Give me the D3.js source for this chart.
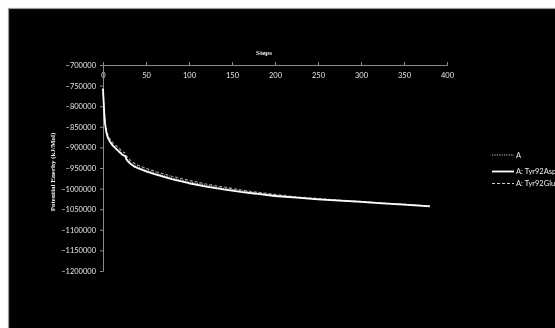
<!DOCTYPE html>
<html>
<head>
<meta charset="utf-8">
<script src="https://cdn.jsdelivr.net/npm/d3@7"></script>
<style>
  html, body { margin: 0; padding: 0; background: #fff; overflow: hidden; }
  svg { display: block; filter: grayscale(1); }
</style>
</head>
<body>
<svg id="chart" width="555" height="328"></svg>
<script>
const steps = [0, 1, 2, 3, 4, 5, 6, 8, 10, 12, 15, 18, 20, 22, 24, 26, 27, 29, 32, 36, 40, 45, 50,
  60, 70, 80, 90, 100, 120, 140, 160, 180, 200, 225, 250, 275, 300, 325, 350, 380];

const energyA = [-757000, -798000, -832000, -850000, -862000, -870000, -876000, -884000, -890000,
  -895000, -901000, -906000, -910000, -914000, -917000, -919000, -925000, -931000, -937000,
  -943000, -947000, -951000, -955000, -962000, -968000, -974000, -979000, -984000, -992000,
  -999000, -1005000, -1011000, -1016000, -1021000, -1025000, -1028000, -1031000, -1035000,
  -1038000, -1042000];

const energyAsp = [-758000, -800000, -835000, -852000, -864000, -872000, -878000, -886000, -892000,
  -897000, -903000, -909000, -913000, -917000, -920000, -921000, -928000, -934000, -940000,
  -946000, -950000, -954000, -958000, -965000, -971000, -977000, -982000, -987000, -995000,
  -1002000, -1008000, -1013000, -1018000, -1022000, -1026000, -1029000, -1032000, -1036000,
  -1039000, -1043000];

const energyGlu = [-756000, -796000, -828000, -846000, -857000, -865000, -871000, -879000, -885000,
  -890000, -896000, -901000, -905000, -909000, -912000, -914000, -920000, -926000, -932000,
  -938000, -943000, -947000, -951000, -958000, -964000, -970000, -975000, -980000, -989000,
  -996000, -1003000, -1009000, -1014000, -1020000, -1024000, -1028000, -1031000, -1035000,
  -1038000, -1042000];

const seriesNames = ['A', 'A: Tyr92Asp', 'A: Tyr92Glu'];
const xTicks = [0, 50, 100, 150, 200, 250, 300, 350, 400];
const yTicks = [-700000, -750000, -800000, -850000, -900000, -950000, -1000000,
  -1050000, -1100000, -1150000, -1200000];

const W = 555, H = 328;
const svg = d3.select('#chart');

// black chart area with grey frame on the top/left edge
svg.append('rect').attr('x', 8.5).attr('y', 8.5).attr('width', W).attr('height', H)
  .attr('fill', '#000').attr('stroke', '#9a9a9a').attr('stroke-width', 1.2);

const x = d3.scaleLinear().domain([0, 400]).range([103, 447]);
const y = d3.scaleLinear().domain([-1200000, -700000]).range([271, 65]);

const tickFont = 'Lato, "Open Sans", sans-serif';
const titleFont = '"Liberation Serif", "DejaVu Serif", serif';

// x axis sits on top (crosses at -700000)
const gx = svg.append('g').attr('transform', `translate(0,${y(-700000)})`)
  .call(d3.axisTop(x).tickValues(xTicks).tickSize(3).tickFormat(d3.format('d')));
gx.selectAll('text').attr('y', 10).attr('dy', '0.35em');
gx.selectAll('.domain').attr('stroke', '#8a8a8a');
gx.selectAll('.tick line').attr('stroke', '#8a8a8a');
gx.selectAll('text').attr('fill', '#e6e6e6').style('font-family', tickFont).style('font-size', '7.5px');

const gy = svg.append('g').attr('transform', `translate(${x(0)},0)`)
  .call(d3.axisLeft(y).tickValues(yTicks).tickSize(3).tickPadding(4).tickFormat(d3.format('d')));
gy.selectAll('.domain').attr('stroke', '#8a8a8a');
gy.selectAll('.tick line').attr('stroke', '#8a8a8a');
gy.selectAll('text').attr('fill', '#e6e6e6').style('font-family', tickFont).style('font-size', '7.5px');

// titles
svg.append('text').attr('x', 264).attr('y', 55).attr('text-anchor', 'middle')
  .attr('fill', '#f0f0f0').style('font-family', titleFont).style('font-weight', 'bold')
  .style('font-size', '7px').text('Steps');

svg.append('text').attr('transform', 'translate(55,172) rotate(-90)').attr('text-anchor', 'middle')
  .attr('fill', '#f0f0f0').style('font-family', titleFont).style('font-weight', 'bold')
  .style('font-size', '7px').text('Potential Enerhy (kJ/Mol)');

// series
const line = d3.line().x((d, i) => x(steps[i])).y(d => y(d));

const styles = [
  { data: energyA,   stroke: '#bdbdbd', width: 1,   dash: '1.2,1.2' },
  { data: energyGlu, stroke: '#a8a8a8', width: 1.1, dash: '3,2' },
  { data: energyAsp, stroke: '#ffffff', width: 1.8, dash: null },
];

styles.forEach(s => {
  svg.append('path').attr('d', line(s.data)).attr('fill', 'none')
    .attr('stroke', s.stroke).attr('stroke-width', s.width)
    .attr('stroke-dasharray', s.dash).attr('stroke-linejoin', 'round');
});

// legend
const legendRows = [
  { name: seriesNames[0], y: 155, stroke: '#c8c8c8', width: 1,   dash: '1.2,1.2' },
  { name: seriesNames[1], y: 171.5, stroke: '#ffffff', width: 1.8, dash: null },
  { name: seriesNames[2], y: 183.5, stroke: '#d0d0d0', width: 1.1, dash: '3,2' },
];
const lg = svg.append('g');
legendRows.forEach(r => {
  lg.append('line').attr('x1', 492).attr('x2', 514).attr('y1', r.y).attr('y2', r.y)
    .attr('stroke', r.stroke).attr('stroke-width', r.width).attr('stroke-dasharray', r.dash);
  lg.append('text').attr('x', 516).attr('y', r.y).attr('dy', '0.35em')
    .attr('fill', '#f0f0f0').style('font-family', tickFont).style('font-size', '7.5px')
    .text(r.name);
});
</script>
</body>
</html>
